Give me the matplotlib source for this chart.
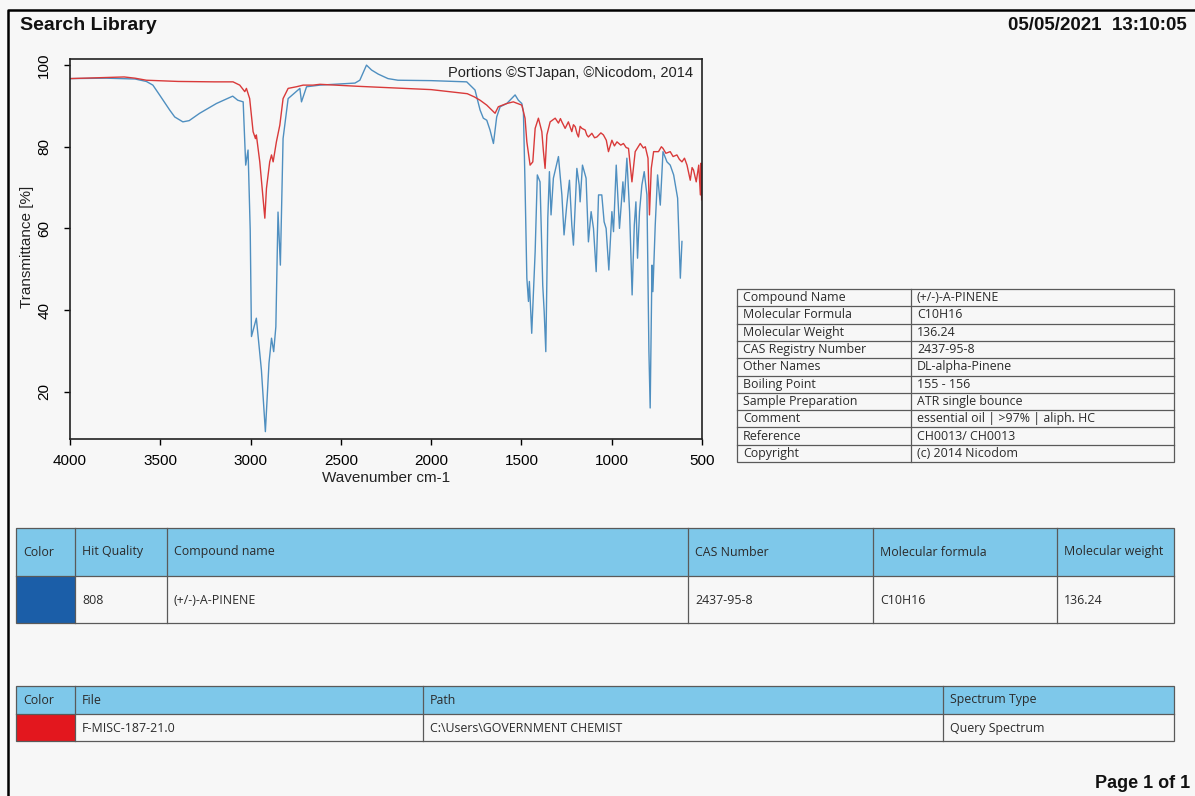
import matplotlib
matplotlib.use("Agg")
import matplotlib.pyplot as plt
from matplotlib.patches import Rectangle

# ---------------------------------------------------------------- data
# Library hit spectrum (blue): wavenumber [cm-1] and transmittance [%]
blue_wn = [4000, 3800, 3640, 3577, 3541, 3504, 3448, 3420, 3375, 3340, 3282,
           3189, 3099, 3071,
           3041, 3027, 3014, 3002, 2995, 2968, 2940, 2918, 2898, 2884, 2872,
           2860, 2848, 2835, 2820, 2792, 2727, 2718, 2690, 2616, 2500, 2422,
           2395, 2358, 2330, 2293, 2239, 2184, 2000, 1803, 1757, 1729, 1711,
           1692, 1674, 1655, 1637, 1618, 1581, 1535, 1517, 1498, 1489, 1480,
           1470, 1461, 1456, 1443, 1424, 1412, 1397, 1382, 1374, 1365, 1354,
           1345, 1336, 1323, 1295, 1276, 1264, 1249, 1234, 1221, 1212, 1193,
           1180, 1175, 1162, 1142, 1129, 1114, 1101, 1086, 1073, 1055, 1042,
           1031, 1016, 999, 990, 975, 957, 938, 931, 916, 901, 887, 875, 866,
           857, 846, 833, 820, 805, 794, 787, 777, 772, 759, 746, 731, 716,
           694, 676, 657, 635, 620, 611]
blue_t = [96.7, 96.8, 96.6, 96.0, 95.1, 92.7, 89.0, 87.3, 86.1, 86.4, 88.2,
          90.6, 92.4, 91.4,
          91.0, 75.5, 79.2, 59.6, 33.5, 38.0, 25.3, 10.2, 27.0, 33.1, 29.8,
          35.9, 64.0, 51.0, 82.0, 91.8, 94.3, 91.0, 94.7, 95.1, 95.4, 95.6,
          96.3, 100.0, 98.8, 97.8, 96.7, 96.3, 96.2, 95.9, 93.9, 89.0, 87.0,
          86.5, 84.1, 80.8, 87.3, 89.8, 90.6, 92.7, 91.4, 90.6, 88.6, 70.6,
          47.8, 42.1, 47.0, 34.3, 54.3, 73.1, 71.4, 46.1, 39.6, 29.8, 62.5,
          73.9, 63.3, 72.3, 77.6, 68.2, 58.4, 65.7, 71.8, 60.8, 55.9, 74.7,
          70.6, 66.5, 75.5, 72.3, 56.7, 64.1, 60.0, 49.4, 68.2, 68.2, 61.6,
          60.0, 49.8, 64.1, 59.2, 75.5, 60.0, 71.4, 66.5, 77.2, 64.1, 43.7,
          60.8, 66.5, 52.7, 64.1, 70.6, 73.9, 68.2, 29.8, 16.0, 51.0, 44.5,
          60.8, 73.1, 65.7, 78.8, 76.3, 75.5, 73.1, 67.4, 47.8, 56.8]

# Query spectrum (red)
red_wn = [4000, 3850, 3700, 3640, 3577, 3400, 3200, 3097, 3060, 3032, 3023,
          3005, 2986, 2973, 2968, 2949, 2921, 2912, 2894, 2884, 2875, 2857,
          2838, 2820, 2792, 2746, 2709, 2654, 2616, 2400, 2000, 1800, 1760,
          1729, 1692, 1646, 1628, 1581, 1545, 1498, 1480, 1470, 1452, 1437,
          1424, 1406, 1387, 1378, 1369, 1359, 1341, 1313, 1295, 1284, 1276,
          1258, 1240, 1230, 1221, 1212, 1202, 1192, 1184, 1175, 1165, 1147,
          1138, 1129, 1110, 1095, 1082, 1060, 1046, 1030, 1018, 999,
          985, 971, 950, 935, 920, 907, 888, 870, 842, 825, 814, 799, 791,
          781, 768, 741, 725, 716, 700, 676, 660, 639, 625, 611, 597, 583,
          565, 555, 547, 532, 518, 509, 505, 502]
red_t = [96.7, 96.9, 97.1, 96.8, 96.3, 96.0, 95.9, 95.9, 95.1, 93.5, 94.3,
         91.8, 83.7, 82.0, 82.9, 76.3, 62.5, 69.8, 76.3, 78.0, 76.3, 81.2,
         85.3, 91.8, 94.3, 94.7, 95.1, 95.1, 95.3, 94.8, 94.0, 93.0, 92.2,
         91.4, 90.2, 88.2, 89.8, 90.6, 91.0, 90.2, 87.0, 81.2, 75.5, 76.3,
         84.5, 87.0, 83.7, 78.8, 74.7, 82.9, 86.1, 87.0, 85.8, 86.9, 86.1,
         84.5, 86.1, 84.8, 83.7, 85.4, 84.9, 83.2, 82.4, 85.0, 84.5, 84.1,
         82.9, 82.4, 83.3, 82.2, 82.4, 83.4, 82.9, 81.6, 78.8, 81.6,
         80.2, 81.2, 80.4, 80.8, 79.8, 79.6, 71.4, 78.8, 80.8, 79.7, 80.0,
         77.2, 63.3, 74.7, 78.8, 78.8, 80.0, 79.6, 78.4, 78.8, 77.6, 78.0,
         76.9, 76.3, 77.2, 75.5, 71.8, 74.9, 74.3, 71.4, 75.5, 68.2, 76.0,
         67.0]

x_ticks = [4000, 3500, 3000, 2500, 2000, 1500, 1000, 500]
y_ticks = [20, 40, 60, 80, 100]

info_fields = ["Compound Name", "Molecular Formula", "Molecular Weight",
               "CAS Registry Number", "Other Names", "Boiling Point",
               "Sample Preparation", "Comment", "Reference", "Copyright"]
info_values = ["(+/-)-A-PINENE", "C10H16", "136.24", "2437-95-8",
               "DL-alpha-Pinene", "155 - 156", "ATR single bounce",
               "essential oil | >97% | aliph. HC", "CH0013/ CH0013",
               "(c) 2014 Nicodom"]

hit_columns = ["Color", "Hit Quality", "Compound name", "CAS Number",
               "Molecular formula", "Molecular weight"]
hit_row = ["", "808", "(+/-)-A-PINENE", "2437-95-8", "C10H16", "136.24"]

file_columns = ["Color", "File", "Path", "Spectrum Type"]
file_row = ["", "F-MISC-187-21.0", "C:\\Users\\GOVERNMENT CHEMIST",
            "Query Spectrum"]

# ---------------------------------------------------------------- style
W, H = 1195, 796
BLUE_LINE = "#4f8fc0"
RED_LINE = "#d93a3a"
HEADER_FILL = "#7ec8ea"
HIT_BLUE = "#1b5ea8"
QUERY_RED = "#e3171e"
GRID_COL = "#5a5a5a"
TXT = "#2b2b2b"
SANS = ["Liberation Sans", "DejaVu Sans"]
UI = ["Open Sans", "DejaVu Sans"]
PAPER = "#f7f7f7"
TFS = 8.9

fig = plt.figure(figsize=(W / 100, H / 100), dpi=100, facecolor=PAPER)

# page layer in pixel coordinates (origin top-left)
page = fig.add_axes([0, 0, 1, 1])
page.set_xlim(0, W)
page.set_ylim(H, 0)
page.axis("off")

page.plot([8, 8, W], [H, 10, 10], color="black", lw=1.8,
          solid_capstyle="butt")
page.text(20, 25, "Search Library", fontsize=14, fontweight="bold",
          family=SANS, ha="left", va="center", color="#111")
page.text(1187, 25, "05/05/2021  13:10:05", fontsize=13.5, fontweight="bold",
          family=SANS, ha="right", va="center", color="#111")
page.text(1190, 783, "Page 1 of 1", fontsize=13, fontweight="bold",
          family=SANS, ha="right", va="center", color="#111")

# ---------------------------------------------------------------- spectrum
ax = fig.add_axes([70 / W, 1 - 439 / H, 632 / W, 380 / H])
ax.set_facecolor("none")
ax.plot(blue_wn, blue_t, color=BLUE_LINE, lw=1.0)
ax.plot(red_wn, red_t, color=RED_LINE, lw=1.0)
ax.set_xlim(4000, 500)
ax.set_ylim(8.4, 101.5)
ax.set_xticks(x_ticks)
ax.set_xticklabels([str(v) for v in x_ticks], family=SANS, fontsize=11)
ax.set_yticks(y_ticks)
ax.set_yticklabels([str(v) for v in y_ticks], family=SANS, fontsize=11,
                   rotation=90, va="center")
ax.tick_params(axis="x", direction="out", length=4.5, width=1, pad=6)
ax.tick_params(axis="y", direction="out", length=4.5, width=1, pad=9)
for sp in ax.spines.values():
    sp.set_linewidth(1.2)
    sp.set_color("#222")
ax.text(0.985, 0.962, "Portions \u00a9STJapan, \u00a9Nicodom, 2014",
        transform=ax.transAxes, ha="right", va="center", fontsize=10.5,
        family=SANS, color="#222")
page.text(386, 478, "Wavenumber cm-1", fontsize=11, family=SANS,
          ha="center", va="center", color="#222")
page.text(27, 247, "Transmittance [%]", fontsize=11, family=SANS,
          rotation=90, ha="center", va="center", color="#222")

# ---------------------------------------------------------------- info table
tx0, tx1, tx2 = 737, 911, 1174
ty0, ty1 = 289, 462
rh = (ty1 - ty0) / len(info_fields)
page.add_patch(Rectangle((tx0, ty0), tx2 - tx0, ty1 - ty0, facecolor="none",
                         edgecolor=GRID_COL, lw=0.9))
page.plot([tx1, tx1], [ty0, ty1], color=GRID_COL, lw=0.9)
for i, (f, v) in enumerate(zip(info_fields, info_values)):
    yc = ty0 + rh * (i + 0.5)
    if i:
        page.plot([tx0, tx2], [ty0 + rh * i] * 2, color=GRID_COL, lw=0.9)
    page.text(tx0 + 6, yc, f, fontsize=TFS, family=UI, ha="left",
              va="center", color=TXT)
    page.text(tx1 + 6, yc, v, fontsize=TFS, family=UI, ha="left",
              va="center", color=TXT)


def draw_table(edges, y_top, y_mid, y_bot, columns, row, swatch):
    """Header band in light blue, one data row, swatch in the first cell."""
    x_left, x_right = edges[0], edges[-1]
    page.add_patch(Rectangle((x_left, y_top), x_right - x_left, y_mid - y_top,
                             facecolor=HEADER_FILL, edgecolor="none"))
    page.add_patch(Rectangle((edges[0], y_mid), edges[1] - edges[0],
                             y_bot - y_mid, facecolor=swatch,
                             edgecolor="none"))
    page.add_patch(Rectangle((x_left, y_top), x_right - x_left, y_bot - y_top,
                             facecolor="none", edgecolor=GRID_COL, lw=0.9))
    page.plot([x_left, x_right], [y_mid, y_mid], color=GRID_COL, lw=0.9)
    for xe in edges[1:-1]:
        page.plot([xe, xe], [y_top, y_bot], color=GRID_COL, lw=0.9)
    for j, (c, r) in enumerate(zip(columns, row)):
        page.text(edges[j] + 7, (y_top + y_mid) / 2, c, fontsize=TFS,
                  family=UI, ha="left", va="center", color=TXT)
        if r:
            page.text(edges[j] + 7, (y_mid + y_bot) / 2 + 1, r, fontsize=TFS,
                      family=UI, ha="left", va="center", color=TXT)


draw_table([16, 75, 167, 688, 873, 1057, 1174], 528, 576, 623,
           hit_columns, hit_row, HIT_BLUE)
draw_table([16, 75, 423, 943, 1174], 686, 714, 741,
           file_columns, file_row, QUERY_RED)

fig.savefig("out.png", dpi=100, facecolor=PAPER)
